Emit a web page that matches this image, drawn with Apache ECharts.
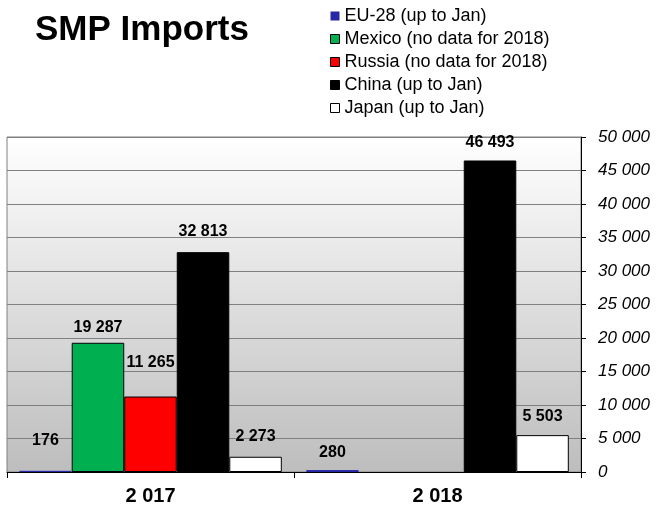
<!DOCTYPE html>
<html>
<head>
<meta charset="utf-8">
<script src="https://cdn.jsdelivr.net/npm/echarts@6/dist/echarts.min.js"></script>
<style>html,body{margin:0;padding:0;background:#fff}#c{width:664px;height:514px}</style>
</head>
<body>
<div id="c"></div>
<script>
const categories = ['2 017', '2 018'];
const seriesNames = ['EU-28 (up to Jan)', 'Mexico (no data for 2018)', 'Russia (no data for 2018)', 'China (up to Jan)', 'Japan (up to Jan)'];
const eu28 = [176, 280];
const mexico = [19287, null];
const russia = [11265, null];
const china = [32813, 46493];
const japan = [2273, 5503];
const yTicks = [0, 5000, 10000, 15000, 20000, 25000, 30000, 35000, 40000, 45000, 50000];

const colors = ['#2626a6', '#00b050', '#ff0000', '#000000', '#ffffff'];
const labelGap = [[22, 10], [7, 10], [26, 10], [13, 10], [12, 11]];

const fmt = v => String(v).replace(/\B(?=(\d{3})+(?!\d))/g, ' ');
const sans = "'Liberation Sans', Arial, sans-serif";

const values = [eu28, mexico, russia, china, japan];
const series = values.map((arr, si) => ({
  name: seriesNames[si],
  type: 'bar',
  barGap: '0%',
  barCategoryGap: '8.5%',
  itemStyle: { color: colors[si], borderColor: si === 0 ? colors[0] : '#000', borderWidth: 1 },
  label: {
    show: true, position: 'top', color: '#000', fontWeight: 'bold', fontSize: 16,
    fontFamily: sans,
    formatter: p => (p.value == null ? '' : fmt(p.value))
  },
  data: arr.map((v, ci) => ({ value: v, label: { distance: labelGap[si][ci] } }))
}));

const chart = echarts.init(document.getElementById('c'), null, { renderer: 'canvas' });
chart.setOption({
  animation: false,
  title: {
    text: 'SMP Imports', left: 30, top: 8,
    textStyle: { fontSize: 35, fontWeight: 'bold', color: '#000', fontFamily: sans }
  },
  legend: {
    orient: 'vertical', left: 325, top: 2, itemWidth: 9, itemHeight: 9, itemGap: 5,
    icon: 'rect',
    itemStyle: { borderColor: '#000', borderWidth: 1 },
    textStyle: { fontSize: 18, color: '#000', fontFamily: sans },
    data: seriesNames.map((n, i) => i === 0
      ? { name: n, itemStyle: { borderWidth: 0 } }
      : { name: n })
  },
  grid: {
    left: 7, right: 83, top: 137, bottom: 42,
    show: true, borderColor: '#808080', borderWidth: 1,
    backgroundColor: {
      type: 'linear', x: 0, y: 0, x2: 0, y2: 1,
      colorStops: [{ offset: 0, color: '#ffffff' }, { offset: 1, color: '#bdbdbd' }]
    }
  },
  xAxis: {
    type: 'category', data: categories,
    axisLine: { show: true, lineStyle: { color: '#000', width: 1 } },
    axisTick: { show: true, length: 6, lineStyle: { color: '#000' } },
    axisLabel: { fontSize: 20, fontWeight: 'bold', color: '#000', fontFamily: sans, margin: 14 }
  },
  yAxis: {
    type: 'value', position: 'right', min: yTicks[0], max: yTicks[yTicks.length - 1], interval: yTicks[1] - yTicks[0],
    axisLine: { show: true, lineStyle: { color: '#000', width: 1 } },
    axisTick: { show: true, length: 5, lineStyle: { color: '#000' } },
    splitLine: { show: true, lineStyle: { color: '#808080', width: 1 } },
    axisLabel: { fontSize: 17, fontStyle: 'italic', color: '#000', fontFamily: sans, margin: 17, formatter: v => fmt(v) }
  },
  series: series
});
</script>
</body>
</html>
